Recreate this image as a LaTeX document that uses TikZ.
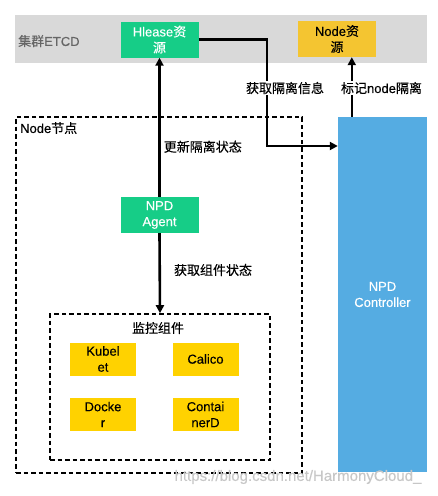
\documentclass[tikz,border=0pt]{standalone}
\usepackage{fontspec}
\setmainfont{Liberation Sans}[FakeBold=0.3]
\newfontfamily\cjk{Noto Sans CJK SC}[FakeBold=0.3]
\newfontfamily\latin{Liberation Sans}[FakeBold=0.3]
\usetikzlibrary{arrows.meta}

\definecolor{etcdgray}{RGB}{217,217,217}
\definecolor{agentgreen}{RGB}{22,205,135}
\definecolor{resyellow}{RGB}{244,197,49}
\definecolor{compyellow}{RGB}{255,210,0}
\definecolor{ctrlblue}{RGB}{85,172,226}

\begin{document}
\begin{tikzpicture}[x=1pt, y=-1pt, font=\fontsize{13}{16}\selectfont,
  greenbox/.style={fill=agentgreen, text=white, minimum width=78pt, minimum height=36pt, inner sep=0pt, align=center},
  yellowbox/.style={fill=compyellow, minimum width=66pt, minimum height=33pt, inner sep=0pt, align=center},
  dashbox/.style={draw, line width=1.6pt, dash pattern=on 4.5pt off 3pt},
  flow/.style={line width=2.6pt, -{Triangle[length=8pt,width=8pt]}},
  lbl/.style={font=\cjk\fontsize{13}{16}\selectfont, inner sep=1pt}]
\useasboundingbox (0,0) rectangle (438,496);
% ETCD band
\node[fill=etcdgray, minimum width=412pt, minimum height=48pt, inner sep=0pt] (etcd) at (221,39) {};
\node[anchor=west, text=black!60, inner sep=0pt] (etcdname) at (18,41) {{\cjk 集群}ETCD};
\node[greenbox] (hlease) at (159.5,39.5) {Hlease{\cjk 资}\\{\cjk 源}};
\node[fill=resyellow, minimum width=78pt, minimum height=36pt, inner sep=0pt, align=center] (noderes) at (337,39) {Node{\cjk 资}\\{\cjk 源}};
% Controller column
\node[fill=ctrlblue, text=white, minimum width=89pt, minimum height=355pt, inner sep=0pt, align=center] (ctrl) at (382.5,294.5) {NPD\\Controller};
% Node box
\node[dashbox, minimum width=286pt, minimum height=356pt, inner sep=0pt] (nodebox) at (159,295) {};
\node[lbl, anchor=west] (nodename) at (19,128) {\latin Node{\cjk 节点}};
\node[greenbox] (agent) at (159.5,215) {NPD\\Agent};
% Monitored components
\node[dashbox, minimum width=220pt, minimum height=146pt, inner sep=0pt] (monitor) at (160,387) {};
\node[lbl] (monname) at (158,328) {监控组件};
\node[yellowbox] (kubelet) at (103,359) {Kubel\\et};
\node[yellowbox] (calico) at (205.5,359) {Calico};
\node[yellowbox] (docker) at (103,414.5) {Docke\\r};
\node[yellowbox] (containerd) at (205.5,414.5) {Contai\\nerD};
% Arrows
\draw[flow] (agent.north) -- node[lbl, right, pos=0.36, xshift=2pt] (updlbl) {更新隔离状态} (hlease.south);
\draw[flow] (agent.south) -- node[lbl, right, pos=0.46, xshift=12pt] (getlbl) {获取组件状态} (monitor.north);
\coordinate (turn) at (267,146);
\draw[flow] (hlease.east) -| (turn) -- (turn -| ctrl.west);
\node[lbl, fill=white] (infolbl) at (285,88) {获取隔离信息};
\coordinate (mark) at ([xshift=14pt]ctrl.north west);
\draw[flow] (mark) -- (mark |- noderes.south);
\node[lbl, fill=white] (marklbl) at (381.5,88) {标记\latin node\cjk 隔离};
% Watermark
\node[text=black!22, font=\fontsize{15}{18}\selectfont, inner sep=0pt] (wmark) at (298,477) {https://blog.csdn.net/HarmonyCloud\_};
\end{tikzpicture}
\end{document}
